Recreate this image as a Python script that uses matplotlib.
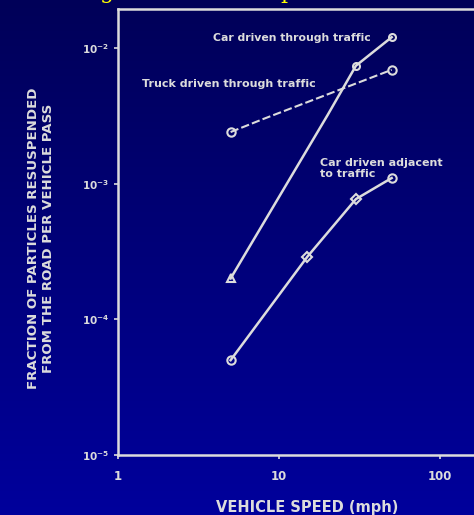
import numpy as np
import matplotlib
matplotlib.use("Agg")
import matplotlib.pyplot as plt

# data (speed in mph, fraction resuspended per pass)
car_traffic_speed = [5, 10, 20, 30, 50]
car_traffic_frac = [2.0e-4, 8.0e-4, 3.2e-3, 7.4e-3, 1.2e-2]

truck_speed = [5, 8, 50]
truck_frac = [2.4e-3, 3.0e-3, 6.9e-3]

car_adjacent_speed = [5, 15, 30, 50]
car_adjacent_frac = [5.0e-5, 2.9e-4, 7.7e-4, 1.1e-3]

xtick_vals = [1, 10, 100]
xtick_labels = ["1", "10", "100"]
ytick_vals = [1e-5, 1e-4, 1e-3, 1e-2]
ytick_labels = [r"$\mathbf{10^{-5}}$", r"$\mathbf{10^{-4}}$", r"$\mathbf{10^{-3}}$", r"$\mathbf{10^{-2}}$"]

fg = "#dcdcdc"

fig = plt.figure(figsize=(4.74, 5.15), dpi=100)

# background gradient, dark navy on top to brighter blue at bottom
bg = fig.add_axes([0, 0, 1, 1])
grad = np.linspace(0, 1, 256).reshape(-1, 1)
cmap = matplotlib.colors.LinearSegmentedColormap.from_list("bg", ["#000058", "#00009c"])
bg.imshow(grad, aspect="auto", cmap=cmap, extent=[0, 1, 0, 1], origin="upper")
bg.axis("off")

# cut-off yellow title, only the descenders show
fig.text(0.226, 1.004, "g", color="#ffff00", fontsize=16, family="DejaVu Serif", ha="center", va="baseline")
fig.text(0.606, 1.004, "p", color="#ffff00", fontsize=16, family="DejaVu Serif", ha="center", va="baseline")

ax = fig.add_axes([0.249, 0.1165, 0.751, 0.866])
ax.patch.set_alpha(0)
ax.set_xscale("log")
ax.set_yscale("log")
ax.set_xlim(1, 10 ** 2.21)
ax.set_ylim(1e-5, 10 ** -1.713)

lw = 1.8
ax.plot(car_traffic_speed, car_traffic_frac, color=fg, lw=lw, zorder=3)
ax.plot(car_traffic_speed[0], car_traffic_frac[0], marker="^", ms=6, mfc="none", mec=fg, mew=1.5, ls="none")
ax.plot(car_traffic_speed[-1], car_traffic_frac[-1], marker="o", ms=5, mfc="none", mec=fg, mew=1.5, ls="none")
ax.plot(car_traffic_speed[3], car_traffic_frac[3], marker="o", ms=5, mfc="none", mec=fg, mew=1.5, ls="none")

ax.plot(truck_speed, truck_frac, color=fg, lw=1.5, ls=(0, (4, 1.5)), zorder=3)
ax.plot([truck_speed[0], truck_speed[-1]], [truck_frac[0], truck_frac[-1]], marker="o", ms=6,
        mfc="none", mec=fg, mew=1.5, ls="none")

ax.plot(car_adjacent_speed, car_adjacent_frac, color=fg, lw=lw, zorder=3)
ax.plot([car_adjacent_speed[0], car_adjacent_speed[-1]], [car_adjacent_frac[0], car_adjacent_frac[-1]],
        marker="o", ms=6, mfc="none", mec=fg, mew=1.5, ls="none")
ax.plot(car_adjacent_speed[1:3], car_adjacent_frac[1:3], marker="D", ms=5, mfc="none", mec=fg, mew=1.5, ls="none")

# curve labels
ax.text(3.9, 1.19e-2, "Car driven through traffic", color=fg, fontsize=7.8, fontweight="bold", va="center")
ax.text(1.41, 5.4e-3, "Truck driven through traffic", color=fg, fontsize=8, fontweight="bold", va="center")
ax.text(18, 1.29e-3, "Car driven adjacent\nto traffic", color=fg, fontsize=8, fontweight="bold",
        va="center", linespacing=1.05)

ax.set_xticks(xtick_vals)
ax.set_xticklabels(xtick_labels)
ax.set_yticks(ytick_vals)
ax.set_yticklabels(ytick_labels)
ax.minorticks_off()
ax.tick_params(colors=fg, labelcolor=fg, length=3, width=1.2)
ax.tick_params(axis="x", labelsize=8.5, pad=8)
ax.tick_params(axis="y", labelsize=7.5)
for lab in ax.get_xticklabels():
    lab.set_fontweight("bold")

for side in ["left", "bottom", "top"]:
    ax.spines[side].set_color(fg)
    ax.spines[side].set_linewidth(1.8)
ax.spines["right"].set_visible(False)

fig.text(0.648, 0.0155, "VEHICLE SPEED (mph)", color=fg, fontsize=10.5, fontweight="bold",
         ha="center", va="center")
fig.text(0.087, 0.537, "FRACTION OF PARTICLES RESUSPENDED\nFROM THE ROAD PER VEHICLE PASS",
         color=fg, fontsize=9.6, fontweight="bold", rotation=90, ha="center", va="center", linespacing=1.2)

fig.savefig("out.png", dpi=100)
